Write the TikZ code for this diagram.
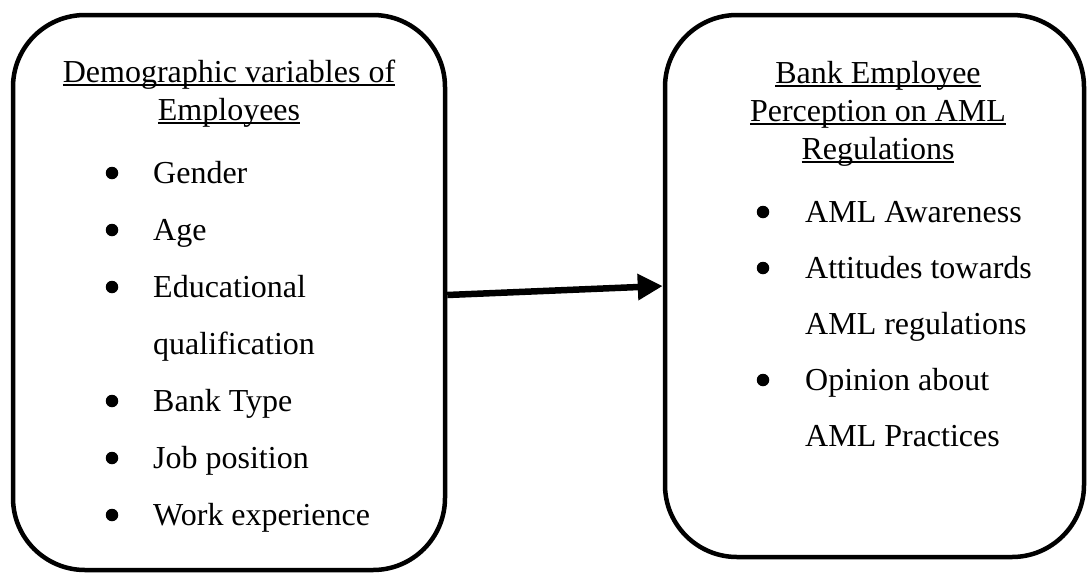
\documentclass[tikz,border=0pt]{standalone}
\usepackage{fontspec}
\setmainfont{Liberation Serif}
\usetikzlibrary{arrows.meta,positioning}

% heading text with a rule set at a fixed depth under the baseline
\newsavebox{\headbox}
\newcommand{\headline}[1]{\sbox{\headbox}{#1}\rlap{\rule[-4pt]{\wd\headbox}{1.6pt}}\usebox{\headbox}}

\tikzset{
  frame/.style={draw, line width=4.5pt, rounded corners=72pt, inner sep=0pt},
  heading/.style={anchor=base, inner sep=0pt},
  entry/.style={anchor=base west, inner sep=0pt},
  dot/.style={circle, fill, inner sep=0pt, minimum size=12.5pt},
  link/.style={-{Triangle[length=25pt,width=25pt]}, line width=6.5pt}
}

\begin{document}
\begin{tikzpicture}[x=1pt, y=-1pt, font=\fontsize{32}{38}\selectfont]
  \useasboundingbox (0,0) rectangle (1087,574);

  % the two boxes
  \node[frame, minimum width=432pt, minimum height=555pt] (demo) at (229,292.5) {};
  \node[frame, minimum width=419pt, minimum height=542pt] (percep) at (874.5,286) {};

  % left box: headings and items
  \node[heading] (demohead1) at (229,82) {\headline{Demographic variables of}};
  \node[heading] (demohead2) at (229,120) {\headline{Employees}};
  \foreach \n/\y/\txt in {gender/183/Gender, age/240/Age, edu/297/Educational,
      qual/354/qualification, banktype/411/Bank Type, job/468/Job position,
      work/525/Work experience}
    \node[entry] (\n) at (153,\y) {\txt};
  \foreach \n in {gender,age,edu,banktype,job,work}
    \node[dot] (\n-dot) at ([xshift=-41pt,yshift=10pt]\n.base west) {};

  % right box: headings and items
  \node[heading] (perchead1) at (878,83) {\headline{Bank Employee}};
  \node[heading] (perchead2) at (878,121) {\headline{Perception on AML}};
  \node[heading] (perchead3) at (878,159) {\headline{Regulations}};
  \foreach \n/\y/\txt in {aware/222/AML Awareness, attitude/278/Attitudes towards,
      attitude2/334/AML regulations, opinion/390/Opinion about,
      opinion2/446/AML Practices}
    \node[entry] (\n) at (805,\y) {\txt};
  \foreach \n in {aware,attitude,opinion}
    \node[dot] (\n-dot) at ([xshift=-42pt,yshift=10pt]\n.base west) {};

  \draw[link] ([yshift=-2.5pt]demo.east) -- (percep.west);
\end{tikzpicture}
\end{document}
